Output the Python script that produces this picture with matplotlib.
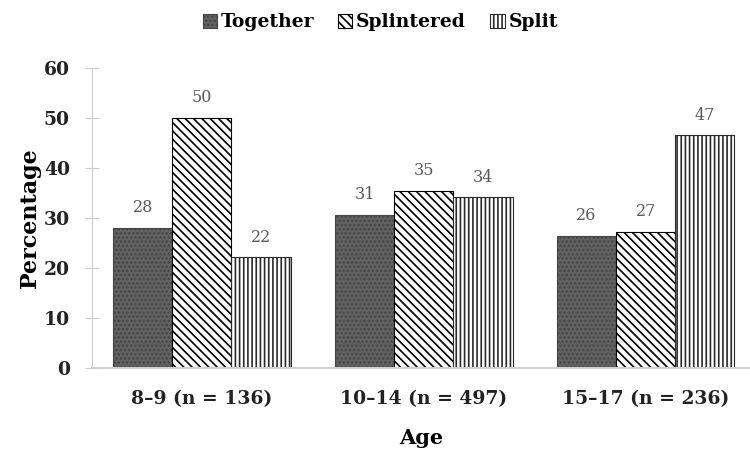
import matplotlib.pyplot as plt
import numpy as np

# data
ages = ['8–9 (n = 136)', '10–14 (n = 497)', '15–17 (n = 236)']
together = [28.0, 30.6, 26.4]
splintered = [50.0, 35.4, 27.2]
split = [22.1, 34.1, 46.5]
together_lbl = [28, 31, 26]
splintered_lbl = [50, 35, 27]
split_lbl = [22, 34, 47]

plt.rcParams['font.family'] = 'DejaVu Serif'
plt.rcParams['hatch.linewidth'] = 1.2

fig = plt.figure(figsize=(7.5, 4.5), dpi=100)
ax = fig.add_axes([0.1227, 0.1822, 0.8773, 0.6668])

x = np.arange(len(ages))
w = 0.8 / 3

series = [
  ('Together', together, together_lbl, '#626262', '#454545', '....'),
  ('Splintered', splintered, splintered_lbl, 'white', 'black', '\\\\\\\\'),
  ('Split', split, split_lbl, 'white', '#2a2a2a', '||||'),
]

for i, (name, vals, lbls, fc, ec, hatch) in enumerate(series):
  pos = x + (i - 1) * w
  bars = ax.bar(pos, vals, w, color=fc, edgecolor=ec, hatch=hatch,
                linewidth=0.8, label=name)
  for b, l in zip(bars, lbls):
    ax.text(b.get_x() + b.get_width() / 2, b.get_height() + 2.3, str(l),
            ha='center', va='bottom', fontsize=11.5, color='#5a5a5a')

ax.set_xlim(-0.495, 2.47)
ax.set_ylim(0, 60)
ax.set_yticks(range(0, 61, 10))
ax.set_xticks(x)
ax.set_xticklabels(ages, fontsize=13.5, fontweight='bold', color='#222222')
for t in ax.get_yticklabels():
  t.set_fontsize(13.5)
  t.set_fontweight('bold')
  t.set_color('#222222')

for s in ['top', 'right']:
  ax.spines[s].set_visible(False)
ax.spines['left'].set_color('#cccccc')
ax.spines['bottom'].set_color('#d0d0d0')
ax.spines['bottom'].set_linewidth(1.5)
ax.tick_params(axis='y', direction='inout', length=10, color='#cccccc', pad=11)
ax.tick_params(axis='x', length=0, pad=16)

ax.set_ylabel('Percentage', fontsize=16, fontweight='bold', labelpad=2)
ax.set_xlabel('Age', fontsize=15, fontweight='bold', labelpad=14)

leg = fig.legend(loc='upper center', bbox_to_anchor=(0.507, 1.008), ncol=3,
                 frameon=False, prop={'size': 13.5, 'weight': 'bold'},
                 handlelength=0.75, handleheight=0.75, handletextpad=0.2,
                 columnspacing=1.3)

fig.savefig('out.png', dpi=100)
